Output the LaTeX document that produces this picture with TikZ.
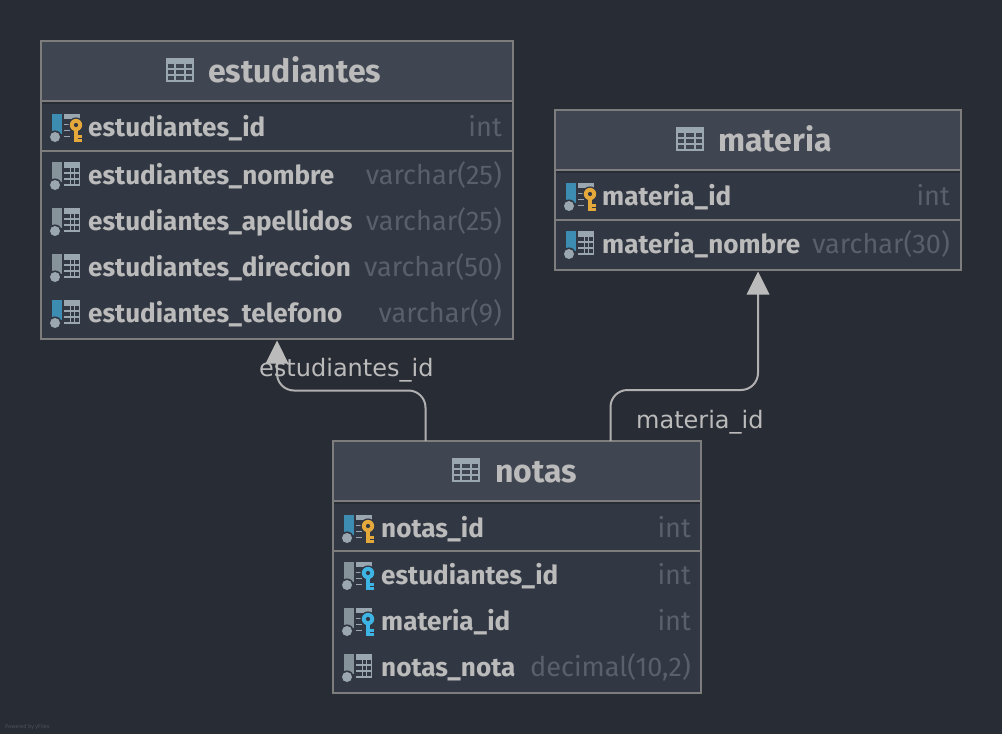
\documentclass[tikz,border=0pt]{standalone}
\usepackage{fontspec}
\setmainfont{Fira Sans}
\newfontfamily\labelfont{DejaVu Sans}
\usetikzlibrary{arrows.meta,calc}
\definecolor{bgc}{HTML}{282C34}
\definecolor{headc}{HTML}{3F4551}
\definecolor{bodyc}{HTML}{323843}
\definecolor{borderc}{HTML}{7D7D7D}
\definecolor{textc}{HTML}{BBBBBB}
\definecolor{typec}{HTML}{59606B}
\definecolor{iconc}{HTML}{9AA7B0}
\definecolor{barg}{HTML}{87939A}
\definecolor{barb}{HTML}{3D8DB2}
\definecolor{gold}{HTML}{E5A83B}
\definecolor{bluek}{HTML}{3DB4E3}
\definecolor{linec}{HTML}{B0B0B0}
\tikzset{
  tablebox/.style={draw=borderc,line width=2pt,fill=bodyc,anchor=north west,inner sep=0pt,outer sep=0pt},
  fieldname/.style={anchor=base west,inner sep=0pt,text=textc,font=\fontsize{26.1}{28}\selectfont\bfseries},
  fieldtype/.style={anchor=base east,inner sep=0pt,text=typec,font=\fontsize{27.1}{28}\selectfont},
  titletext/.style={anchor=base west,inner sep=0pt,text=textc,font=\fontsize{32}{34}\selectfont\bfseries},
  linklabel/.style={anchor=base west,inner sep=0pt,text=textc,font=\labelfont\fontsize{24}{26}\selectfont},
  link/.style={draw=linec,line width=2pt,rounded corners=17pt},
  headtip/.style={fill=textc,draw=none}
}
\newcommand{\headicon}[2]{%
  \fill[iconc] (#1,#2) rectangle ++(28,24);
  \foreach \yy in {6.3,12,18}{\foreach \xx in {2,10,20}{%
    \pgfmathsetmacro{\ww}{\xx==10?8:6}%
    \fill[headc] (#1+\xx,#2+\yy) rectangle ++(\ww,3.9);}}
}
\newcommand{\baricon}[3]{%
  \fill[#3] (#1,#2-12) rectangle ++(10,20);
  \fill[bodyc] (#1+3,#2+11) circle (6.6);
  \fill[iconc] (#1+3,#2+11) circle (5);
}
\newcommand{\gridicon}[2]{%
  \fill[iconc] (#1+12,#2-12) rectangle ++(16,24);
  \foreach \yy in {-6,0,6}{%
    \fill[bodyc] (#1+12,#2+\yy) rectangle ++(6,4);
    \fill[bodyc] (#1+18.6,#2+\yy) rectangle ++(3.6,4);
    \fill[bodyc] (#1+23,#2+\yy) rectangle ++(4,4);}
}
\newcommand{\keyicon}[3]{%
  \fill[iconc] (#1+12,#2-12) rectangle ++(16,5);
  \fill[iconc] (#1+12,#2-2.2) rectangle ++(5.5,1.6);
  \fill[iconc] (#1+12,#2+3.8) rectangle ++(5.5,1.6);
  \fill[iconc] (#1+12,#2+9.8) rectangle ++(5.5,1.6);
  \fill[bodyc] (#1+24,#2-1) circle (7.6);
  \fill[#3] (#1+24,#2-1) circle (6.2);
  \fill[#3] (#1+22,#2+2) rectangle ++(4,14);
  \fill[#3] (#1+25,#2+9) rectangle ++(5,3);
  \fill[#3] (#1+25,#2+13) rectangle ++(5,3);
  \fill[bodyc] (#1+24,#2-1) circle (2.1);
}
\def\nameoff{47}
\newcommand{\fieldrow}[8]{%
  \baricon{#2+11}{#4}{#7}
  \ifx\relax#8\relax\gridicon{#2+11}{#4}\else\keyicon{#2+11}{#4}{#8}\fi
  \node[fieldname] (n-#1) at (#2+\nameoff,#4+10.2) {#5};
  \node[fieldtype] (t-#1) at (#3-11,#4+10.2) {#6};
}
\newcommand{\headband}[5]{%
  \fill[headc] (#1,#2) rectangle (#3,#4);
  \fill[#5] (#1,#4) rectangle (#3,#4+3);
  \draw[draw=borderc,line width=2pt] (#1,#4) -- (#3,#4);
}
\begin{document}
\begin{tikzpicture}[x=1pt,y=-1pt]
\useasboundingbox[fill=bgc] (0,0) rectangle (1002,734);
\node[tablebox,minimum width=472pt,minimum height=298pt] (estudiantes) at (41,41) {};
\node[tablebox,minimum width=406pt,minimum height=160pt] (materia) at (555,110) {};
\node[tablebox,minimum width=368pt,minimum height=252pt] (notas) at (333,441) {};
\headband{42}{42}{512}{101}{bgc}
\draw[borderc,line width=2pt] (41,41) rectangle (513,339);
\headicon{166}{58}
\node[titletext] (title-e) at (208,82) {estudiantes};
\fieldrow{e1}{41}{513}{126}{estudiantes\_id}{int}{barb}{gold}
\draw[borderc,line width=2pt] (42,151) -- (512,151);
\fieldrow{e2}{41}{513}{174}{estudiantes\_nombre}{varchar(25)}{barg}{}
\fieldrow{e3}{41}{513}{220}{estudiantes\_apellidos}{varchar(25)}{barg}{}
\fieldrow{e4}{41}{513}{266}{estudiantes\_direccion}{varchar(50)}{barg}{}
\fieldrow{e5}{41}{513}{312}{estudiantes\_telefono}{varchar(9)}{barb}{}
\headband{556}{111}{960}{170}{bgc}
\draw[borderc,line width=2pt] (555,110) rectangle (961,270);
\headicon{676}{127}
\node[titletext] (title-m) at (718,151) {materia};
\fieldrow{m1}{555}{961}{195}{materia\_id}{int}{barb}{gold}
\draw[borderc,line width=2pt] (556,220) -- (960,220);
\fieldrow{m2}{555}{961}{243}{materia\_nombre}{varchar(30)}{barb}{}
\headband{334}{442}{700}{501}{bgc}
\draw[borderc,line width=2pt] (333,441) rectangle (701,693);
\headicon{452}{458}
\node[titletext] (title-n) at (495,482) {notas};
\def\nameoff{48}
\fieldrow{n1}{333}{702}{527}{notas\_id}{int}{barb}{gold}
\draw[borderc,line width=2pt] (334,551) -- (700,551);
\fieldrow{n2}{333}{702}{574}{estudiantes\_id}{int}{barg}{bluek}
\fieldrow{n3}{333}{702}{620}{materia\_id}{int}{barg}{bluek}
\fieldrow{n4}{333}{702}{666}{notas\_nota}{decimal(10,2)}{barg}{}
\coordinate (a1) at ($(notas.north west)+(92.5,0)$);
\coordinate (a2) at ($(estudiantes.south west)+(236,22)$);
\coordinate (b1) at ($(notas.north west)+(277.5,0)$);
\coordinate (b2) at ($(materia.south west)+(203,23)$);
\draw[link] (a1) |- ($(a2)+(0,29.5)$) -- (a2);
\draw[link] (b1) |- ($(b2)+(0,97)$) -- (b2);
\fill[headtip] ($(estudiantes.south west)+(236,1.5)$) -- ++(11.5,23) -- ++(-23,0) -- cycle;
\fill[headtip] ($(materia.south west)+(203,1.5)$) -- ++(11.5,23) -- ++(-23,0) -- cycle;
\node[linklabel] (l1) at (259,376) {estudiantes\_id};
\node[linklabel] (l2) at (636,428) {materia\_id};
\node[anchor=base west,inner sep=0pt,text=typec!70!bgc,font=\fontsize{5.5}{6}\selectfont] (wm) at (5,728) {Powered by yFiles};
\end{tikzpicture}
\end{document}
